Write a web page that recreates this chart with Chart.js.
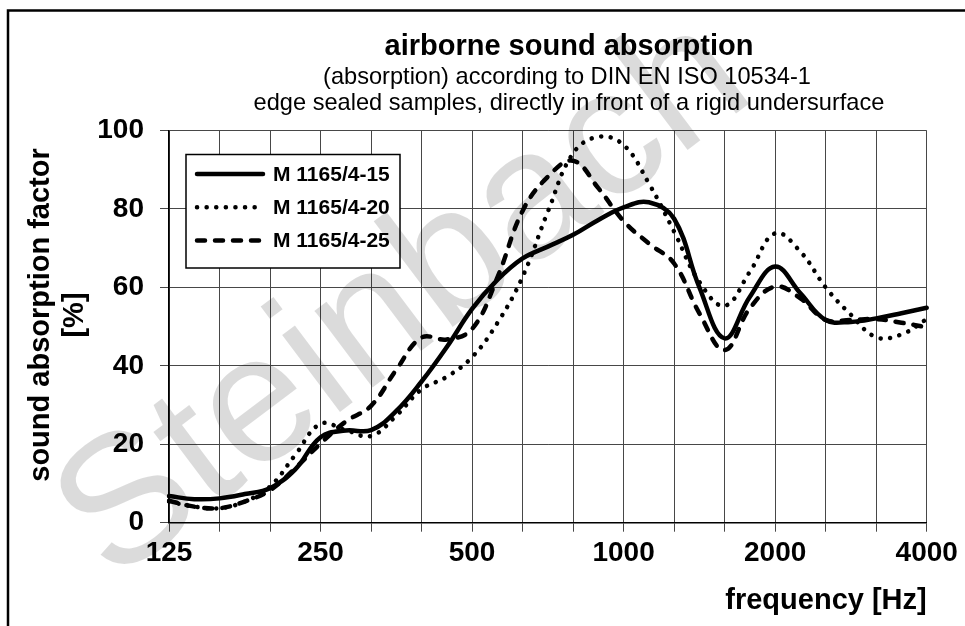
<!DOCTYPE html>
<html>
<head>
<meta charset="utf-8">
<script src="https://cdn.jsdelivr.net/npm/chart.js@4.4.1/dist/chart.umd.min.js"></script>
<style>
  html, body { margin: 0; padding: 0; background: #fff; }
  canvas { display: block; }
</style>
</head>
<body>
<canvas id="chart" width="965" height="626"></canvas>
<script>
"use strict";

const FONT = '"Liberation Sans", Arial, Helvetica, sans-serif';
const GRID = "#474747";

// 1/6-octave steps along the x axis (Hz); grid lines sit on every 1/3 octave
const freqs = ["125", "140", "160", "180", "200", "224", "250", "280", "315", "355", "400",
  "450", "500", "560", "630", "710", "800", "900", "1000", "1120", "1250", "1400", "1600",
  "1800", "2000", "2240", "2500", "2800", "3150", "3550", "4000"];
const octaveLabels = ["125", "250", "500", "1000", "2000", "4000"];

// sound absorption factor [%]
const m15 = [6.8, 6.0, 6.2, 7.3, 8.8, 13.6, 21.8, 23.5, 23.6, 28.5, 36.0, 44.8, 54.5, 61.9,
  67.4, 70.4, 73.4, 77.2, 80.4, 81.7, 77.5, 60.0, 47.0, 57.6, 65.3, 58.5, 51.7, 51.2, 52.1,
  53.4, 54.8];
const m20 = [5.4, 4.1, 3.7, 5.4, 9.2, 17.3, 25.2, 23.6, 22.1, 27.3, 34.0, 37.2, 42.2, 50.9,
  62.7, 79.3, 94.2, 98.4, 96.3, 86.5, 74.2, 61.4, 55.3, 64.0, 73.8, 69.1, 60.0, 53.0, 47.3,
  48.0, 51.9];
const m25 = [5.6, 4.1, 3.7, 5.4, 8.3, 13.9, 20.2, 25.8, 29.8, 39.0, 47.2, 46.7, 49.4, 62.5,
  79.5, 88.2, 92.3, 85.3, 76.9, 71.2, 66.1, 53.4, 44.0, 54.7, 60.2, 57.2, 51.7, 51.7, 51.9,
  51.0, 49.8];

const font = (size, weight = "bold") => ({ family: FONT, size, weight });

function line(label, data, dash) {
  return {
    label, data, borderColor: "#000", borderWidth: 4.5, borderDash: dash,
    borderCapStyle: "round", borderJoinStyle: "round",
    pointRadius: 0, tension: 0.4, fill: false,
  };
}

// outer frame + titles (the frame runs off the right and bottom edges)
const framePlugin = {
  id: "frame",
  beforeDraw(chart) {
    const { ctx } = chart;
    ctx.save();
    ctx.strokeStyle = "#000";
    ctx.lineWidth = 2.5;
    ctx.strokeRect(8, 10.5, 1200, 1000);

    ctx.fillStyle = "#000";
    ctx.textAlign = "center";
    ctx.textBaseline = "alphabetic";
    ctx.font = `bold 29px ${FONT}`;
    ctx.fillText("airborne sound absorption", 569, 55);
    ctx.font = `23.6px ${FONT}`;
    ctx.fillText("(absorption) according to DIN EN ISO 10534-1", 567, 84);
    ctx.fillText("edge sealed samples, directly in front of a rigid undersurface", 569, 110);

    ctx.translate(0, 315);
    ctx.rotate(-Math.PI / 2);
    ctx.textBaseline = "middle";
    ctx.font = `bold 29px ${FONT}`;
    ctx.fillText("sound absorption factor", 0, 41);
    ctx.fillText("[%]", 0, 75);
    ctx.restore();
  },
};

// boxed legend in the upper left of the plot
const legendPlugin = {
  id: "boxLegend",
  afterDatasetsDraw(chart) {
    const { ctx } = chart;
    ctx.save();
    ctx.fillStyle = "#fff";
    ctx.fillRect(186, 154.5, 214, 113.5);
    ctx.strokeStyle = "#000";
    ctx.lineWidth = 1.5;
    ctx.strokeRect(186, 154.5, 214, 113.5);
    ctx.font = `bold 21px ${FONT}`;
    ctx.textBaseline = "middle";
    chart.data.datasets.forEach((ds, i) => {
      const y = 175 + i * 33.3;
      ctx.beginPath();
      ctx.setLineDash(ds.borderDash);
      ctx.lineWidth = ds.borderWidth;
      ctx.lineCap = "round";
      ctx.moveTo(197, y - 1);
      ctx.lineTo(263, y - 1);
      ctx.stroke();
      ctx.setLineDash([]);
      ctx.fillStyle = "#000";
      ctx.fillText(ds.label, 273, y);
    });
    ctx.restore();
  },
};

// light diagonal watermark over everything
const watermarkPlugin = {
  id: "watermark",
  afterDraw(chart) {
    const { ctx } = chart;
    ctx.save();
    ctx.translate(405, 300);
    ctx.rotate(-37 * Math.PI / 180);
    ctx.font = `182px ${FONT}`;
    ctx.fillStyle = "rgba(0,0,0,0.14)";
    ctx.textAlign = "center";
    ctx.textBaseline = "middle";
    ctx.fillText("Steinbach", 0, 0);
    ctx.restore();
  },
};

new Chart(document.getElementById("chart"), {
  type: "line",
  data: {
    labels: freqs,
    datasets: [
      line("M 1165/4-15", m15, []),
      line("M 1165/4-20", m20, [0.1, 9.5]),
      line("M 1165/4-25", m25, [8, 10]),
    ],
  },
  options: {
    responsive: false,
    devicePixelRatio: 1,
    animation: false,
    layout: { padding: { top: 130.5, right: 38.3, bottom: 0, left: 0 } },
    plugins: { legend: { display: false }, title: { display: false }, tooltip: { enabled: false } },
    scales: {
      x: {
        type: "category",
        offset: false,
        afterFit: (s) => { s.height = 103.3; },
        grid: { color: (c) => (c.index % 2 ? "rgba(0,0,0,0)" : GRID), lineWidth: 1, tickLength: 9 },
        border: { color: "#000", width: 1.5 },
        ticks: {
          autoSkip: false, maxRotation: 0, minRotation: 0, padding: 5, color: "#000", font: font(28),
          callback: (v, i) => (octaveLabels.includes(freqs[i]) ? freqs[i] : ""),
        },
        title: {
          display: true, text: "frequency [Hz]", align: "end", color: "#000", font: font(29),
          padding: { top: 0, bottom: 8 },
        },
      },
      y: {
        min: 0, max: 100,
        afterFit: (s) => { s.width = 169; },
        grid: { color: GRID, lineWidth: 1, tickLength: 9 },
        border: { color: "#000", width: 1.5 },
        ticks: { stepSize: 20, padding: 16, color: "#000", font: font(28) },
      },
    },
  },
  plugins: [framePlugin, legendPlugin, watermarkPlugin],
});
</script>
</body>
</html>
